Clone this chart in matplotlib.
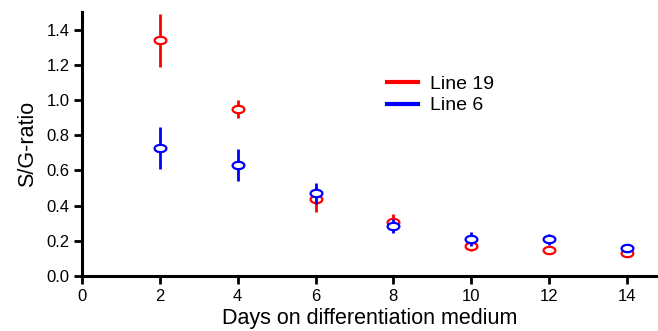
import numpy as np
import matplotlib.pyplot as plt
from matplotlib.path import Path
from matplotlib.lines import Line2D

plt.rcParams['font.family'] = ['Liberation Sans', 'DejaVu Sans']

days = [2, 4, 6, 8, 10, 12, 14]

# Line 19 (red)
line19 = [1.338, 0.95, 0.436, 0.308, 0.172, 0.147, 0.132]
line19_err = [0.15, 0.05, 0.075, 0.045, 0.03, 0.02, 0.012]

# Line 6 (blue)
line6 = [0.726, 0.63, 0.469, 0.283, 0.21, 0.208, 0.157]
line6_err = [0.12, 0.09, 0.06, 0.04, 0.04, 0.03, 0.015]

# open ellipse marker, wider than tall
t = np.linspace(0, 2 * np.pi, 60)
ellipse = Path(np.column_stack([np.cos(t), 0.62 * np.sin(t)]))

fig = plt.figure(figsize=(6.58, 3.31), dpi=100)
ax = fig.add_axes([0.1246, 0.166, 0.8754, 0.798])

for vals, errs, col in [(line19, line19_err, '#ff0000'), (line6, line6_err, '#0000ff')]:
    ax.errorbar(days, vals, yerr=errs, fmt='none', ecolor=col,
                elinewidth=2, capsize=0)
    ax.plot(days, vals, linestyle='none', marker=ellipse, markersize=8.5,
            markerfacecolor='white', markeredgecolor=col, markeredgewidth=1.6)

handles = [Line2D([], [], color='#ff0000', lw=3),
           Line2D([], [], color='#0000ff', lw=3)]
ax.legend(handles, ['Line 19', 'Line 6'], loc='upper left',
          bbox_to_anchor=(0.5295, 0.76), frameon=False, fontsize=14,
          handlelength=1.6, handletextpad=0.6, labelspacing=0.2,
          borderpad=0, borderaxespad=0)

ax.set_xlim(0, 14.8)
ax.set_ylim(0, 1.5)
ax.set_xticks(range(0, 15, 2))
ax.set_yticks(np.arange(0, 1.41, 0.2))
ax.set_yticklabels([f'{v:.1f}' for v in np.arange(0, 1.41, 0.2)])

for s in ['top', 'right']:
    ax.spines[s].set_visible(False)
for s in ['left', 'bottom']:
    ax.spines[s].set_linewidth(2.2)
ax.tick_params(width=2, length=6, labelsize=12, pad=3)

ax.set_xlabel('Days on differentiation medium', fontsize=15.5, labelpad=3)
ax.set_ylabel('S/G-ratio', fontsize=15.5, labelpad=6)

fig.savefig('out.png', dpi=100)
